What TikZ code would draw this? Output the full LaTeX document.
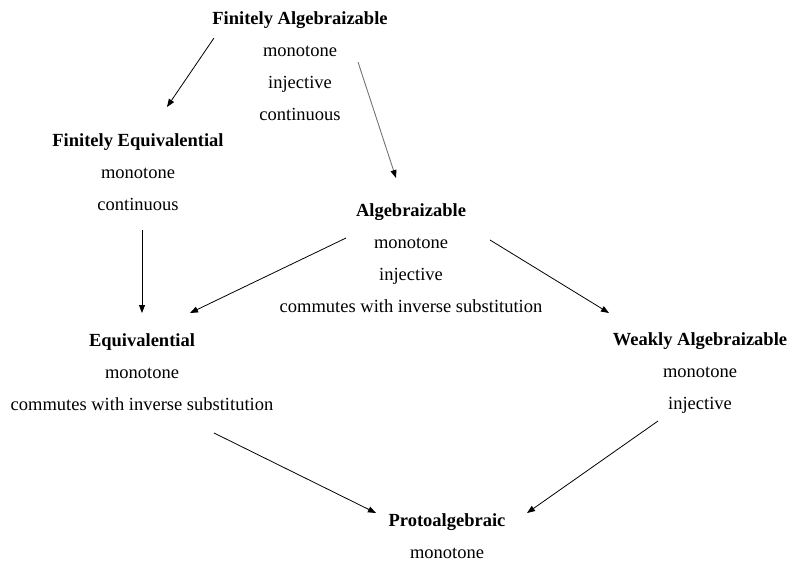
\documentclass[tikz,border=0pt]{standalone}
\usepackage{fontspec}
\setmainfont{Liberation Serif}
\usetikzlibrary{arrows.meta}
\begin{document}
\begin{tikzpicture}[x=1pt,y=-1pt,
  blk/.style={align=center,inner sep=0pt,font=\fontsize{18.5}{32}\selectfont},
  arr/.style={line width=0.8pt,-{Triangle[length=8pt,width=6pt]}},
  grayarr/.style={line width=0.9pt,draw=black!55,-{Triangle[length=8pt,width=6pt,color=black]}}]
\useasboundingbox (0,0) rectangle (789,562);
\node[blk] (fa) at (300,66) {\textbf{Finitely Algebraizable}\\monotone\\injective\\continuous};
\node[blk] (fe) at (138,172) {\textbf{Finitely Equivalential}\\monotone\\continuous};
\node[blk] (al) at (411,258) {\textbf{Algebraizable}\\monotone\\injective\\commutes with inverse substitution};
\node[blk] (eq) at (142,372) {\textbf{Equivalential}\\monotone\\commutes with inverse substitution};
\node[blk] (wa) at (700,373) {\textbf{Weakly Algebraizable}\\monotone\\injective};
\node[blk] (pr) at (447,536) {\textbf{Protoalgebraic}\\monotone};
% connector ends
\coordinate (fa1) at (214,38);  \coordinate (fe1) at (167,107);
\coordinate (fa2) at (358,62);  \coordinate (al1) at (396,178);
\coordinate (fe2) at (142,230); \coordinate (eq1) at (142,313);
\coordinate (al2) at (346,238); \coordinate (eq2) at (190,313);
\coordinate (al3) at (490,240); \coordinate (wa1) at (609,313);
\coordinate (eq3) at (214,433); \coordinate (pr1) at (376,513);
\coordinate (wa2) at (658,421); \coordinate (pr2) at (527,513);
\draw[arr] (fa1) -- (fe1);
\draw[grayarr] (fa2) -- (al1);
\draw[arr] (fe2) -- (eq1);
\draw[arr] (al2) -- (eq2);
\draw[arr] (al3) -- (wa1);
\draw[arr] (eq3) -- (pr1);
\draw[arr] (wa2) -- (pr2);
\end{tikzpicture}
\end{document}
